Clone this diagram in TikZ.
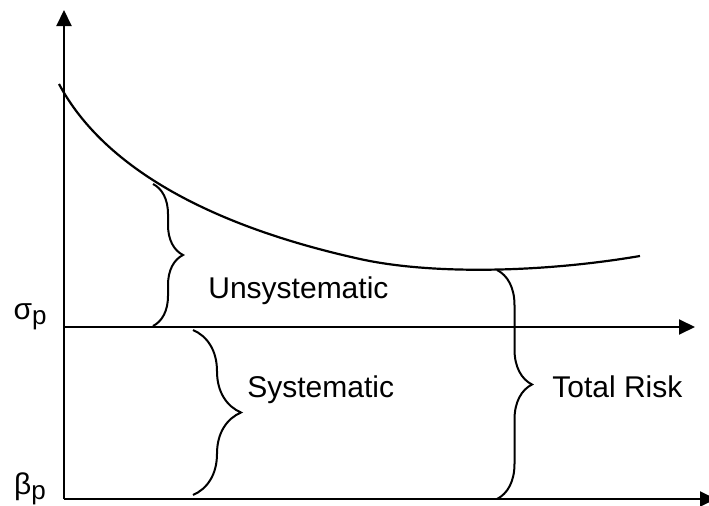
\documentclass[tikz,border=0pt]{standalone}
\usepackage{fontspec}
\setmainfont{Liberation Sans}
\usepackage{tikz}
\usetikzlibrary{arrows.meta, decorations.pathreplacing}
\tikzstyle{axis} = [line width=1pt, -{Triangle[length=8pt, width=7.5pt]}]
\tikzstyle{riskbrace} = [line width=1pt, decorate]
\tikzstyle{risktext} = [inner sep=0pt, font=\fontsize{15pt}{18pt}\selectfont]
\newcommand{\subp}{\raisebox{-0.3ex}{\fontsize{13pt}{15pt}\selectfont p}}

\begin{document}
\begin{tikzpicture}[x=0.5pt, y=0.5pt]
    \useasboundingbox (0, 0) rectangle (709, 505);

    \coordinate (origin) at (64, 6);
    \coordinate (ytop) at (64, 495);
    \coordinate (sigmaleft) at (64, 178);
    \coordinate (sigmaright) at (695, 178);
    \coordinate (betaright) at (716, 6);

    % axes
    \draw [axis] (origin) -- (ytop);
    \draw [axis] (sigmaleft) -- (sigmaright);
    \draw [axis] (origin) -- (betaright);

    % risk curve
    \coordinate (cstart) at (59, 421);
    \coordinate (cmid) at (360, 246);
    \coordinate (cend) at (640, 249);
    \draw [line width=1.1pt] (cstart) .. controls (105, 335) and (215, 278) .. (cmid)
        .. controls (430, 230.5) and (540, 232) .. (cend);

    \node (sigma) [risktext] at (30, 188) {σ\subp};
    \node (beta) [risktext] at (30, 16) {β\subp};
    \node (unsys) [risktext, anchor=base west] at (208, 206) {Unsystematic};
    \node (sys) [risktext, anchor=base west] at (247, 108) {Systematic};
    \node (total) [risktext, anchor=base west] at (552, 108) {Total Risk};

    % braces
    \coordinate (b1top) at (153, 321);
    \coordinate (b1bot) at (153, 179);
    \coordinate (b2top) at (193, 175);
    \coordinate (b2bot) at (193, 10);
    \coordinate (b3top) at (497, 235);
    \coordinate (b3bot) at (497, 6);
    \draw [riskbrace, decoration={brace, amplitude=15pt}] (b1top) -- (b1bot);
    \draw [riskbrace, decoration={brace, amplitude=24pt}] (b2top) -- (b2bot);
    \draw [riskbrace, decoration={brace, amplitude=17.5pt}] (b3top) -- (b3bot);

\end{tikzpicture}
\end{document}
